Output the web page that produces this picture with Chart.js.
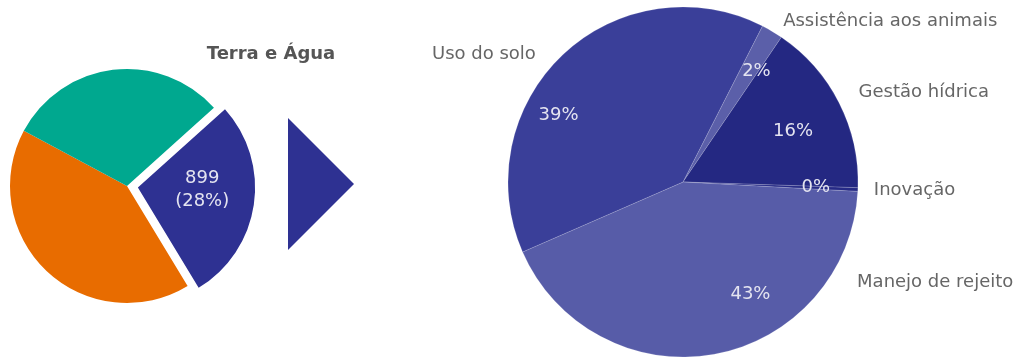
<!DOCTYPE html>
<html>
<head>
<meta charset="utf-8">
<script src="https://cdn.jsdelivr.net/npm/chart.js@4/dist/chart.umd.min.js"></script>
<style>
  body { margin: 0; background: #fff; }
  .wrap { position: relative; width: 1022px; height: 358px; overflow: hidden; }
  #groupPie { position: absolute; left: 0; top: 0; }
  #detailPie { position: absolute; left: 380px; top: 0; }
</style>
</head>
<body>
<div class="wrap">
  <canvas id="groupPie" width="380" height="358"></canvas>
  <canvas id="detailPie" width="642" height="358"></canvas>
</div>
<script>
// left pie: the group split, the navy slice is drilled down on the right
const groupNames = ["Terra e Água", "Outros A", "Outros B"];
const groupValues = [899, 1332, 980];
const groupColors = ["#2e3192", "#e86c00", "#00a88f"];

// right pie: breakdown of "Terra e Água"
const detailNames = ["Assistência aos animais", "Gestão hídrica", "Inovação", "Manejo de rejeito", "Uso do solo"];
const detailValues = [18, 144, 3, 383, 351];
const detailColors = ["#5b5fa9", "#242882", "#262a86", "#575ca8", "#3a3f99"];

const textFont = "18px 'DejaVu Sans', Verdana, sans-serif";

let toRad = (deg) => ((deg - 90) * Math.PI) / 180;

// draws labels inside / outside the slices
// nudge: { label: { inA, inD, outA, outD } } angles in degrees from 12 o'clock, distances in px
const pieText = {
  id: "pieText",
  afterDatasetsDraw(chart, args, opts) {
    const ctx = chart.ctx;
    const arcs = chart.getDatasetMeta(0).data;
    const labels = chart.data.labels;
    const values = chart.data.datasets[0].data;
    const total = values.reduce((a, b) => a + b, 0);
    ctx.save();
    ctx.font = textFont;
    ctx.textBaseline = "middle";
    arcs.forEach((arc, i) => {
      const shift = (arc.options.offset || 0) / 4;
      const mid = (arc.startAngle + arc.endAngle) / 2;
      const cx = arc.x + Math.cos(mid) * shift;
      const cy = arc.y + Math.sin(mid) * shift;
      const r = arc.outerRadius;
      const n = (opts.nudge || {})[labels[i]] || {};
      const pct = Math.round((values[i] / total) * 100);

      if (opts.inner && opts.inner(i)) {
        const a = n.inA !== undefined ? toRad(n.inA) : mid;
        const d = n.inD !== undefined ? n.inD : r * opts.innerPos;
        const lines = opts.innerText(values[i], pct);
        const x = cx + Math.cos(a) * d;
        const y = cy + Math.sin(a) * d;
        ctx.fillStyle = "#e4e4f0";
        ctx.textAlign = "center";
        lines.forEach((t, k) => {
          ctx.fillText(t, x, y + (k - (lines.length - 1) / 2) * 23);
        });
      }
      if (opts.outer) {
        const a = n.outA !== undefined ? toRad(n.outA) : mid;
        const d = n.outD !== undefined ? n.outD : r + opts.outerGap;
        const x = cx + Math.cos(a) * d;
        const y = cy + Math.sin(a) * d;
        ctx.fillStyle = "#666666";
        ctx.textAlign = Math.cos(a) >= 0 ? "left" : "right";
        ctx.fillText(labels[i], x, y);
      }
    });
    ctx.restore();
  },
};

// title over the left pie + the arrow pointing to the detail pie
const groupDecor = {
  id: "groupDecor",
  afterDraw(chart) {
    const arc = chart.getDatasetMeta(0).data[0];
    const ctx = chart.ctx;
    const cx = arc.x;
    const cy = arc.y;
    const r = arc.outerRadius;
    ctx.save();
    ctx.font = "bold 18px 'DejaVu Sans', Verdana, sans-serif";
    ctx.fillStyle = "#555555";
    ctx.textAlign = "center";
    ctx.textBaseline = "middle";
    ctx.fillText(groupNames[0], cx + r + 27, cy - r - 15);
    // arrow
    const x0 = cx + r + 44;
    ctx.fillStyle = groupColors[0];
    ctx.beginPath();
    ctx.moveTo(x0, cy - 68);
    ctx.lineTo(x0 + 66, cy - 2);
    ctx.lineTo(x0, cy + 64);
    ctx.closePath();
    ctx.fill();
    ctx.restore();
  },
};

let groupChart = () => {
  new Chart("groupPie", {
    type: "pie",
    data: {
      labels: groupNames,
      datasets: [
        {
          data: groupValues,
          backgroundColor: groupColors,
          borderWidth: 0,
          offset: [44, 0, 0],
          clip: false,
        },
      ],
    },
    options: {
      responsive: false,
      devicePixelRatio: 1,
      animation: false,
      rotation: 48,
      radius: 117,
      layout: { padding: { left: 0, right: 126, top: 14, bottom: 0 } },
      plugins: {
        legend: { display: false },
        tooltip: { enabled: false },
        pieText: {
          inner: (i) => i === 0,
          innerText: (v, p) => [String(v), "(" + p + "%)"],
          innerPos: 0.55,
          nudge: { "Terra e Água": { inA: 92 } },
          outer: false,
        },
      },
    },
    plugins: [pieText, groupDecor],
  });
};

let detailChart = () => {
  new Chart("detailPie", {
    type: "pie",
    data: {
      labels: detailNames,
      datasets: [
        {
          data: detailValues,
          backgroundColor: detailColors,
          borderColor: "rgba(255,255,255,0.3)",
          borderWidth: 0.5,
          clip: false,
        },
      ],
    },
    options: {
      responsive: false,
      devicePixelRatio: 1,
      animation: false,
      rotation: 27,
      radius: 175,
      layout: { padding: { left: 0, right: 36, top: 6, bottom: 0 } },
      plugins: {
        legend: { display: false },
        tooltip: { enabled: false },
        pieText: {
          inner: () => true,
          innerText: (v, p) => [p + "%"],
          innerPos: 0.76,
          outer: true,
          outerGap: 16,
          nudge: {
            "Uso do solo": { inA: 298, inD: 141, outA: 311, outD: 195 },
            "Assistência aos animais": { inA: 33.5, outA: 32, outD: 189 },
            "Gestão hídrica": { inA: 65.5, inD: 121, outD: 197 },
            "Manejo de rejeito": { inA: 149, inD: 131, outA: 120, outD: 201 },
          },
        },
      },
    },
    plugins: [pieText],
  });
};

groupChart();
detailChart();
</script>
</body>
</html>
